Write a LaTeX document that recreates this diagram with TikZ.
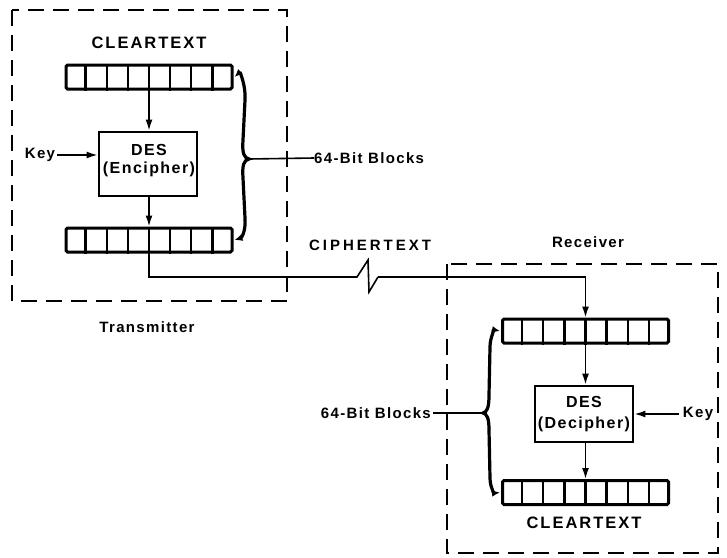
\documentclass[tikz,border=0pt]{standalone}
\usepackage{fontspec}
\setmainfont{Liberation Sans}
\newfontfamily\fclear[LetterSpace=12]{Liberation Sans}
\newfontfamily\fcipher[LetterSpace=20]{Liberation Sans}
\newfontfamily\fsmall[LetterSpace=9]{Liberation Sans}
\usetikzlibrary{arrows.meta,calc}
\tikzset{
  regbox/.style={draw, line width=3pt, rounded corners=1.5pt, minimum width=166pt, minimum height=24pt, inner sep=0pt},
  divline/.style={line width=2.4pt},
  desbox/.style={draw, line width=2.8pt, minimum width=98pt, inner sep=0pt},
  frame/.style={line width=2.8pt, dash pattern=on 16pt off 9pt},
  flow/.style={line width=1.6pt, -{Latex[length=11pt,width=7pt]}},
  wire/.style={line width=1.6pt},
  bracearr/.style={line width=3.2pt, {Latex[length=8pt,width=7pt]}-{Latex[length=8pt,width=7pt]}},
  cleartxt/.style={font={\fclear\bfseries\fontsize{16.5pt}{19pt}\selectfont}, inner sep=0pt},
  ciphertxt/.style={font={\fcipher\bfseries\fontsize{15pt}{18pt}\selectfont}, inner sep=0pt},
  destxt/.style={font={\fsmall\bfseries\fontsize{16pt}{19pt}\selectfont}, inner sep=0pt},
  smalltxt/.style={font={\fsmall\bfseries\fontsize{15pt}{18pt}\selectfont}, inner sep=0pt}
}
\begin{document}
\begin{tikzpicture}[x=1pt,y=-1pt]
\useasboundingbox (0,0) rectangle (727,557);

% dashed frames
\draw[frame] (12,10) rectangle (287,301);
\draw[frame] (447,264) rectangle (718,553);

% transmitter
\node[cleartxt] (ct1) at (149,43) {CLEARTEXT};
\node[regbox] (reg1) at (149,77) {};
\node[desbox, minimum height=64pt] (des1) at (148,164) {};
\node[destxt] (des1a) at (149,150) {DES};
\node[destxt] (des1b) at (149,169) {(Encipher)};
\node[regbox] (reg2) at (149,240) {};
\node[smalltxt] (key1) at (40,155) {Key};
\node[smalltxt, anchor=west] (blk1) at (314,158) {64-Bit Blocks};
\node[smalltxt] (tx) at (147,327) {Transmitter};

% receiver
\node[smalltxt] (rx) at (588,242) {Receiver};
\node[regbox] (reg3) at (585.5,331) {};
\node[desbox, minimum height=56pt] (des2) at (584,414) {};
\node[destxt] (des2a) at (584,402) {DES};
\node[destxt] (des2b) at (584,424) {(Decipher)};
\node[regbox] (reg4) at (585.5,492.5) {};
\node[cleartxt] (ct2) at (584,523) {CLEARTEXT};
\node[smalltxt] (key2) at (698,414) {Key};
\node[smalltxt, anchor=east] (blk2) at (431,413) {64-Bit Blocks};

\node[ciphertxt] (cip) at (370,245) {CIPHERTEXT};

% register dividers
\foreach \r in {reg1,reg2,reg3,reg4}
  \foreach \i in {1,...,7}
    \draw[divline] ($(\r.south west)!\i/8!(\r.south east)$) -- ($(\r.north west)!\i/8!(\r.north east)$);

% transmitter flow
\draw[flow] (reg1.south) -- (reg1.south |- des1.north);
\draw[flow] (reg1.south |- des1.south) -- (reg2.north);
\draw[flow] (key1.east) ++(2,0) coordinate (k1s) -- (k1s -| des1.west);

% ciphertext line with break
\coordinate (z1) at (357,277);
\coordinate (z2) at (368,260);
\coordinate (z3) at (369,292);
\coordinate (z4) at (378,277);
\draw[wire] (reg2.south) |- (z1) -- (z2) -- (z3) -- (z4);
\draw[flow] (z4) -| (reg3.north);

% receiver flow
\draw[flow] (reg3.south) -- (reg3.south |- des2.north);
\draw[flow] (reg3.south |- des2.south) -- (reg4.north);
\draw[flow] (key2.west) ++(-4,0) coordinate (k2s) -- (k2s -| des2.east);

% braces
\coordinate (b1) at (249,159);
\draw[bracearr] ($(reg1.east)+(1,0)$) .. controls (240,72) and (246,86) .. (245,100)
  -- (243,140) .. controls (242,153) and (244,158) .. (b1)
  .. controls (244,160) and (242,165) .. (243,178)
  -- (245,218) .. controls (246,232) and (241,238) .. ($(reg2.east)+(1,0)$);
\draw[wire] (b1) -- (blk1.west);

\coordinate (b2) at (483,413);
\draw[bracearr] ($(reg3.west)+(-1,0)$) .. controls (495,330) and (490,337) .. (490,347)
  -- (489,395) .. controls (489,408) and (487,412) .. (b2)
  .. controls (487,414) and (489,418) .. (489,430)
  -- (490,478) .. controls (490,488) and (495,493) .. ($(reg4.west)+(-1,0)$);
\draw[wire] (blk2.east) ++(2,0) -- (b2);
\end{tikzpicture}
\end{document}
